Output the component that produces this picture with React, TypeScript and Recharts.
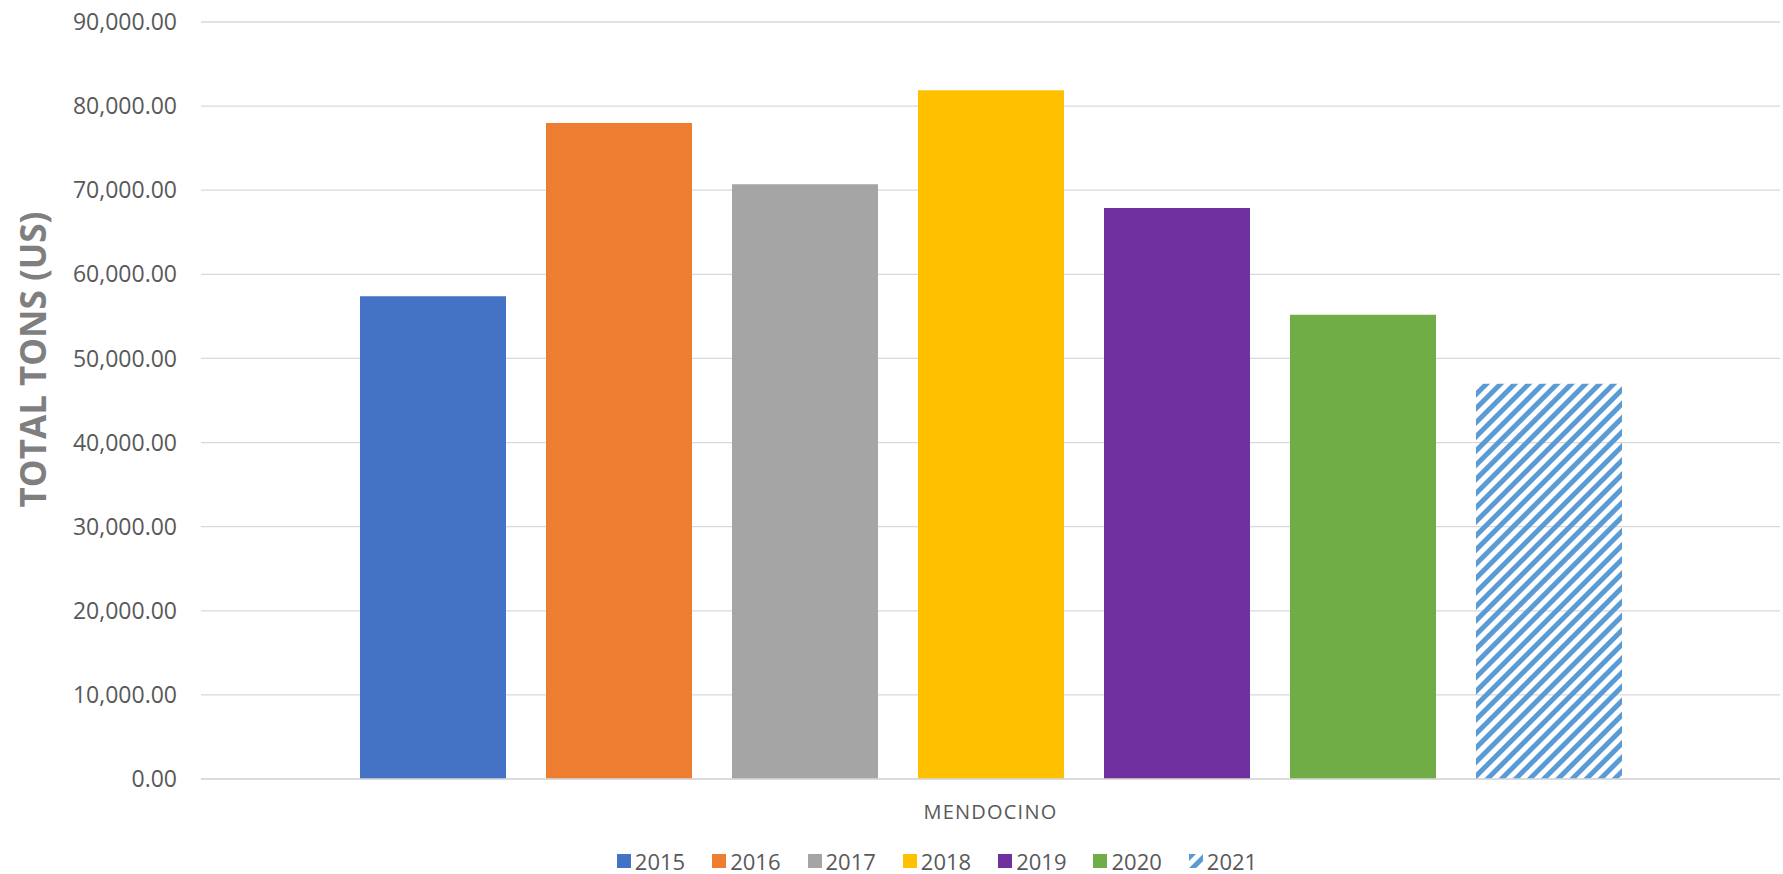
import React from "react";
import {
  BarChart,
  Bar,
  CartesianGrid,
  XAxis,
  YAxis,
  Legend,
} from "recharts";

const county = "MENDOCINO";
const years = ["2015", "2016", "2017", "2018", "2019", "2020", "2021"];
const tons = [57400, 78000, 70700, 81900, 67900, 55200, 47000];
const colors = ["#4472C4", "#ED7D31", "#A5A5A5", "#FFC000", "#7030A0", "#70AD47", "url(#hatch2021)"];
const yTicks = [0, 10000, 20000, 30000, 40000, 50000, 60000, 70000, 80000, 90000];

const row: Record<string, string | number> = { county };
years.forEach((y, i) => {
  row[y] = tons[i];
});
const data = [row];

const fmt = (v: number) =>
  v.toLocaleString("en-US", { minimumFractionDigits: 2, maximumFractionDigits: 2 });

function YTitle(props: any) {
  const vb = props.viewBox || { x: 0, y: 0, height: 0 };
  const x = vb.x + 32;
  const y = vb.y + vb.height / 2 - 41;
  return (
    <text
      x={x}
      y={y}
      transform={`rotate(-90, ${x}, ${y})`}
      textAnchor="middle"
      dominantBaseline="central"
      fill="#7f7f7f"
      fontSize={35}
      fontWeight={700}
      fontFamily="'Open Sans', sans-serif"
    >
      TOTAL TONS (US)
    </text>
  );
}

function LegendBox() {
  return (
    <div style={{ display: "flex", justifyContent: "center", alignItems: "center" }}>
      {years.map((y, i) => (
        <div key={y} style={{ display: "flex", alignItems: "center", marginRight: i < years.length - 1 ? 27 : 0 }}>
          <svg width={14} height={14} style={{ marginRight: 4 }}>
            <rect width={14} height={14} fill={colors[i]} />
          </svg>
          <span style={{ fontSize: 22, color: "#595959", lineHeight: "22px" }}>{y}</span>
        </div>
      ))}
    </div>
  );
}

export default function App() {
  return (
    <div
      style={{
        position: "absolute",
        left: 0,
        top: 0,
        width: 1783,
        height: 874,
        background: "#fff",
        fontFamily: "'Open Sans', sans-serif",
      }}
    >
      <BarChart
        width={1783}
        height={874}
        data={data}
        margin={{ top: 22, right: 3, bottom: 35, left: 0 }}
        barGap={40}
        barSize={146}
      >
        <defs>
          <pattern
            id="hatch2021"
            patternUnits="userSpaceOnUse"
            width={10}
            height={10}
            patternTransform="rotate(45)"
          >
            <rect x={0} y={0} width={5} height={10} fill="#5B9BD5" />
          </pattern>
        </defs>
        <CartesianGrid vertical={false} stroke="#d9d9d9" strokeWidth={1.3} />
        <XAxis
          dataKey="county"
          height={60}
          axisLine={{ stroke: "#d9d9d9", strokeWidth: 1.3 }}
          tickLine={false}
          tickSize={0}
          tickMargin={26}
          tick={{ fill: "#595959", fontSize: 20, letterSpacing: 1.2 }}
        />
        <YAxis
          width={201}
          domain={[0, 90000]}
          ticks={yTicks}
          tickFormatter={fmt}
          axisLine={false}
          tickLine={false}
          tickSize={0}
          tickMargin={24}
          tick={{ fill: "#595959", fontSize: 23 }}
          label={<YTitle />}
        />
        <Legend
          verticalAlign="middle"
          layout="horizontal"
          content={<LegendBox />}
          wrapperStyle={{ top: 850, left: 0, width: 1874 }}
        />
        {years.map((y, i) => (
          <Bar key={y} dataKey={y} fill={colors[i]} isAnimationActive={false} />
        ))}
      </BarChart>
    </div>
  );
}
